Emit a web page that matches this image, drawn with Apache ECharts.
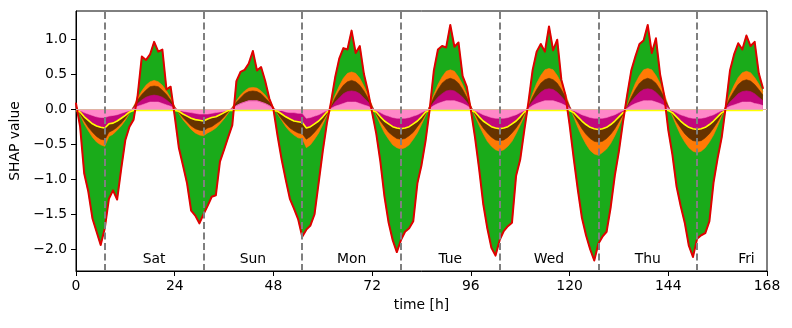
<!DOCTYPE html>
<html><head><meta charset="utf-8">
<script src="https://cdn.jsdelivr.net/npm/echarts@6/dist/echarts.min.js"></script>
<style>html,body{margin:0;padding:0;background:#fff}#c{width:792px;height:328px}</style>
</head><body><div id="c"></div>
<script>
// total SHAP value (red outline / green fill), hourly
const totalShap = [
 0.08,-0.25,-0.92,-1.18,-1.56,-1.75,-1.94,-1.70,-1.28,-1.16,-1.29,-0.85,-0.44,-0.25,-0.15,0.20,0.75,0.70,0.78,0.96,0.82,0.85,0.28,0.32,
 -0.10,-0.55,-0.80,-1.06,-1.45,-1.52,-1.63,-1.50,-1.38,-1.25,-1.23,-0.75,-0.58,-0.40,-0.23,0.40,0.53,0.56,0.65,0.83,0.55,0.60,0.40,0.15,
 0.00,-0.38,-0.72,-1.01,-1.28,-1.42,-1.57,-1.82,-1.72,-1.66,-1.50,-1.05,-0.60,-0.20,0.10,0.45,0.72,0.87,0.85,1.12,0.80,0.90,0.50,0.25,
 -0.05,-0.35,-0.75,-1.25,-1.62,-1.87,-2.04,-1.87,-1.75,-1.70,-1.60,-1.06,-0.80,-0.45,0.00,0.55,0.85,0.90,0.88,1.20,0.89,0.95,0.47,0.32,
 -0.01,-0.40,-0.85,-1.35,-1.70,-1.98,-2.09,-1.87,-1.74,-1.67,-1.62,-0.95,-0.72,-0.30,0.10,0.55,0.82,0.93,0.82,1.18,0.84,0.99,0.42,0.20,
 -0.22,-0.70,-1.15,-1.55,-1.80,-2.00,-2.16,-1.92,-1.82,-1.75,-1.40,-0.95,-0.60,-0.18,0.20,0.55,0.75,0.93,0.98,1.20,0.80,1.01,0.50,0.20,
 -0.30,-0.65,-1.10,-1.38,-1.62,-1.95,-2.11,-1.85,-1.80,-1.77,-1.60,-1.05,-0.70,-0.40,0.05,0.55,0.78,0.94,0.85,1.05,0.90,0.96,0.51,0.30
];
// cumulative layer boundaries (orange, brown, magenta, pink), hourly
const orangeLayer = [
 0.05,-0.08,-0.21,-0.31,-0.40,-0.47,-0.51,-0.53,-0.39,-0.36,-0.30,-0.24,-0.16,-0.06,0.04,0.16,0.26,0.34,0.39,0.41,0.39,0.34,0.26,0.16,
 0.04,-0.06,-0.15,-0.22,-0.29,-0.34,-0.37,-0.38,-0.34,-0.31,-0.27,-0.21,-0.14,-0.06,0.03,0.12,0.20,0.26,0.30,0.31,0.30,0.26,0.20,0.12,
 0.03,-0.07,-0.16,-0.25,-0.32,-0.37,-0.41,-0.42,-0.55,-0.51,-0.43,-0.34,-0.22,-0.09,0.05,0.20,0.33,0.44,0.51,0.53,0.51,0.44,0.33,0.20,
 0.05,-0.09,-0.22,-0.34,-0.43,-0.51,-0.55,-0.57,-0.55,-0.51,-0.43,-0.34,-0.22,-0.09,0.05,0.21,0.35,0.46,0.54,0.56,0.54,0.46,0.35,0.21,
 0.05,-0.10,-0.23,-0.35,-0.46,-0.53,-0.58,-0.60,-0.58,-0.53,-0.46,-0.35,-0.23,-0.10,0.05,0.22,0.37,0.48,0.56,0.58,0.56,0.48,0.37,0.22,
 0.05,-0.11,-0.26,-0.39,-0.50,-0.59,-0.64,-0.66,-0.62,-0.57,-0.49,-0.38,-0.25,-0.10,0.05,0.22,0.37,0.48,0.56,0.58,0.56,0.48,0.37,0.22,
 0.05,-0.10,-0.24,-0.37,-0.47,-0.55,-0.60,-0.62,-0.60,-0.55,-0.47,-0.37,-0.24,-0.10,0.05,0.21,0.34,0.45,0.52,0.54,0.52,0.45,0.36,0.25
];
const brownLayer = [
 0.04,-0.07,-0.17,-0.26,-0.33,-0.39,-0.43,-0.44,-0.33,-0.30,-0.26,-0.20,-0.13,-0.05,0.03,0.13,0.21,0.27,0.32,0.33,0.32,0.27,0.21,0.13,
 0.03,-0.05,-0.12,-0.18,-0.24,-0.28,-0.30,-0.31,-0.27,-0.25,-0.21,-0.17,-0.11,-0.04,0.02,0.10,0.16,0.22,0.25,0.26,0.25,0.22,0.16,0.10,
 0.02,-0.06,-0.14,-0.21,-0.27,-0.31,-0.34,-0.35,-0.43,-0.39,-0.33,-0.26,-0.17,-0.07,0.04,0.16,0.26,0.34,0.39,0.41,0.39,0.34,0.26,0.16,
 0.04,-0.07,-0.17,-0.25,-0.33,-0.38,-0.42,-0.43,-0.42,-0.38,-0.33,-0.25,-0.17,-0.07,0.04,0.17,0.28,0.37,0.42,0.44,0.42,0.37,0.28,0.17,
 0.04,-0.07,-0.18,-0.27,-0.34,-0.40,-0.44,-0.45,-0.44,-0.40,-0.34,-0.27,-0.18,-0.07,0.04,0.17,0.28,0.37,0.42,0.44,0.42,0.37,0.28,0.17,
 0.04,-0.08,-0.18,-0.28,-0.36,-0.42,-0.46,-0.47,-0.46,-0.42,-0.36,-0.28,-0.18,-0.08,0.04,0.17,0.28,0.37,0.42,0.44,0.42,0.37,0.28,0.17,
 0.04,-0.07,-0.18,-0.27,-0.35,-0.41,-0.45,-0.46,-0.45,-0.41,-0.35,-0.27,-0.18,-0.07,0.04,0.16,0.26,0.35,0.40,0.42,0.40,0.35,0.28,0.20
];
const magentaLayer = [
 0.03,-0.04,-0.11,-0.16,-0.21,-0.24,-0.26,-0.27,-0.21,-0.20,-0.17,-0.13,-0.09,-0.04,0.02,0.08,0.13,0.17,0.19,0.20,0.19,0.17,0.13,0.08,
 0.02,-0.03,-0.07,-0.10,-0.13,-0.15,-0.16,-0.17,-0.14,-0.12,-0.11,-0.08,-0.05,-0.02,0.01,0.05,0.08,0.10,0.12,0.12,0.12,0.10,0.08,0.05,
 0.01,-0.03,-0.07,-0.11,-0.14,-0.17,-0.18,-0.19,-0.27,-0.25,-0.21,-0.17,-0.11,-0.04,0.02,0.10,0.16,0.22,0.25,0.26,0.25,0.22,0.16,0.10,
 0.02,-0.04,-0.11,-0.17,-0.21,-0.25,-0.27,-0.28,-0.27,-0.25,-0.21,-0.17,-0.11,-0.04,0.02,0.10,0.17,0.22,0.26,0.27,0.26,0.22,0.17,0.10,
 0.02,-0.04,-0.11,-0.17,-0.21,-0.25,-0.27,-0.28,-0.27,-0.25,-0.21,-0.17,-0.11,-0.04,0.03,0.11,0.18,0.24,0.28,0.29,0.28,0.24,0.18,0.11,
 0.03,-0.05,-0.11,-0.17,-0.22,-0.26,-0.28,-0.29,-0.28,-0.26,-0.22,-0.17,-0.11,-0.05,0.03,0.11,0.18,0.24,0.28,0.29,0.28,0.24,0.18,0.11,
 0.03,-0.05,-0.11,-0.17,-0.22,-0.26,-0.28,-0.29,-0.28,-0.26,-0.22,-0.17,-0.11,-0.05,0.02,0.10,0.16,0.22,0.25,0.26,0.25,0.22,0.17,0.12
];
const pinkLayer = [
 0.01,-0.02,-0.05,-0.07,-0.09,-0.11,-0.12,-0.12,-0.10,-0.09,-0.08,-0.06,-0.04,-0.02,0.01,0.04,0.06,0.08,0.10,0.10,0.10,0.08,0.06,0.04,
 0.01,-0.01,-0.03,-0.04,-0.05,-0.06,-0.07,-0.07,-0.07,-0.06,-0.05,-0.04,-0.03,-0.01,0.01,0.05,0.08,0.10,0.12,0.12,0.12,0.10,0.08,0.05,
 0.01,-0.01,-0.02,-0.04,-0.05,-0.05,-0.06,-0.06,-0.13,-0.12,-0.10,-0.08,-0.05,-0.02,0.01,0.04,0.06,0.08,0.10,0.10,0.10,0.08,0.06,0.04,
 0.01,-0.02,-0.05,-0.08,-0.10,-0.12,-0.13,-0.13,-0.13,-0.12,-0.10,-0.08,-0.05,-0.02,0.01,0.05,0.08,0.10,0.12,0.12,0.12,0.10,0.08,0.05,
 0.01,-0.02,-0.05,-0.08,-0.10,-0.12,-0.13,-0.13,-0.13,-0.12,-0.10,-0.08,-0.05,-0.02,0.01,0.05,0.08,0.10,0.12,0.12,0.12,0.10,0.08,0.05,
 0.01,-0.02,-0.05,-0.08,-0.10,-0.12,-0.13,-0.13,-0.13,-0.12,-0.10,-0.08,-0.05,-0.02,0.01,0.05,0.08,0.10,0.12,0.12,0.12,0.10,0.08,0.05,
 0.01,-0.02,-0.05,-0.08,-0.10,-0.12,-0.13,-0.13,-0.13,-0.12,-0.10,-0.08,-0.05,-0.02,0.01,0.04,0.06,0.08,0.10,0.10,0.10,0.08,0.07,0.05
];
const baseStrip = -0.02;               // constant thin pink band / yellow baseline
const dayBoundaries = [7, 31, 55, 79, 103, 127, 151];
const dayNames = ['Sat', 'Sun', 'Mon', 'Tue', 'Wed', 'Thu', 'Fri'];
const dayLabelHours = [19, 43, 67, 91, 115, 139, 163];
const dayLabelLevel = -2.14;
const yTickValues = [-2.0, -1.5, -1.0, -0.5, 0.0, 0.5, 1.0];

const hours = totalShap.map((_, i) => i);
const pairs = arr => arr.map((v, i) => [hours[i], v]);
const yellowLine = magentaLayer.map(v => (v < baseStrip ? v : baseStrip));
const stripVals = hours.map(() => baseStrip);

const FONT = 'DejaVu Sans';
const FS = 13.9;
const fmt = v => (v < 0 ? '\u2212' : '') + Math.abs(v).toFixed(1);

function area(name, data, color) {
  return {
    name, type: 'line', data: pairs(data), showSymbol: false, silent: true,
    lineStyle: { width: 0.6, color }, areaStyle: { color, opacity: 1 }, itemStyle: { color }
  };
}

const chart = echarts.init(document.getElementById('c'), null, { renderer: 'canvas' });
chart.setOption({
  animation: false,
  backgroundColor: '#fff',
  grid: { left: 76, right: 25, top: 11, bottom: 57, show: true, borderColor: '#000', borderWidth: 1, backgroundColor: 'transparent' },
  xAxis: {
    type: 'value', min: 0, max: 168, interval: 24,
    name: 'time [h]', nameLocation: 'middle', nameGap: 25,
    nameTextStyle: { fontFamily: FONT, fontSize: FS, color: '#000' },
    axisLine: { show: true, onZero: false, lineStyle: { color: '#000', width: 1 } },
    axisTick: { show: true, inside: false, length: 5, lineStyle: { color: '#000' } },
    axisLabel: { margin: 8, fontFamily: FONT, fontSize: FS, color: '#000' },
    splitLine: { show: false }
  },
  yAxis: {
    type: 'value', min: -2.31, max: 1.4,
    name: 'SHAP value', nameLocation: 'middle', nameGap: 52, nameRotate: 90,
    nameTextStyle: { fontFamily: FONT, fontSize: FS, color: '#000' },
    axisLine: { show: true, onZero: false, lineStyle: { color: '#000', width: 1 } },
    axisTick: { show: true, length: 5, customValues: yTickValues, lineStyle: { color: '#000' } },
    axisLabel: { margin: 9, fontFamily: FONT, fontSize: FS, color: '#000', customValues: yTickValues, formatter: fmt },
    splitLine: { show: false }
  },
  series: [
    area('total', totalShap, '#1aab1a'),
    area('orange', orangeLayer, '#ff7a05'),
    area('brown', brownLayer, '#663300'),
    area('magenta', magentaLayer, '#c2077c'),
    area('pink', pinkLayer, '#ff88c8'),
    Object.assign(area('strip', stripVals, '#ff88c8'), {
      markLine: { silent: true, symbol: 'none', label: { show: false },
        lineStyle: { color: '#e0b4a4', width: 1, type: 'solid' }, data: [{ yAxis: 0 }] }
    }),
    { name: 'yellow', type: 'line', data: pairs(yellowLine), showSymbol: false, silent: true,
      lineStyle: { width: 1.6, color: '#ffff00' } },
    { name: 'dashes', type: 'line', data: [], silent: true,
      markLine: { silent: true, symbol: 'none', label: { show: false },
        lineStyle: { color: '#7f7f7f', width: 2, type: [7, 3.5] },
        data: dayBoundaries.map(x => ({ xAxis: x })) } },
    { name: 'red', type: 'line', data: pairs(totalShap), showSymbol: false, silent: true,
      lineStyle: { width: 2, color: '#e00000', join: 'round', cap: 'round' } },
    { name: 'days', type: 'scatter', silent: true, symbol: 'circle', symbolSize: 0,
      itemStyle: { color: '#000' },
      data: dayNames.map((d, i) => [dayLabelHours[i], dayLabelLevel, d]),
      label: { show: true, position: 'inside', formatter: p => p.data[2],
        fontFamily: FONT, fontSize: FS, color: '#000', textBorderWidth: 0, opacity: 1 } }
  ]
});
</script></body></html>
